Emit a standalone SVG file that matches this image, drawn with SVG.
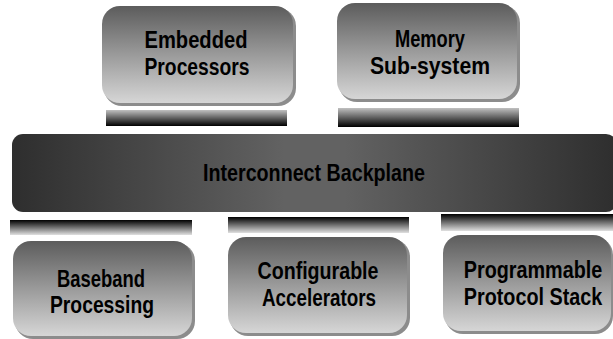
<svg xmlns="http://www.w3.org/2000/svg" width="613" height="339" viewBox="0 0 613 339">
<defs>
<linearGradient id="boxG" x1="0" y1="0" x2="0" y2="1">
<stop offset="0" stop-color="#5c5c5c"/>
<stop offset="0.5" stop-color="#9a9a9a"/>
<stop offset="1" stop-color="#d6d6d6"/>
</linearGradient>
<linearGradient id="bpG" x1="0" y1="0" x2="1" y2="0">
<stop offset="0" stop-color="#2e2e2e"/>
<stop offset="0.45" stop-color="#626262"/>
<stop offset="0.55" stop-color="#626262"/>
<stop offset="1" stop-color="#2e2e2e"/>
</linearGradient>
<linearGradient id="barUp" x1="0" y1="0" x2="0" y2="1">
<stop offset="0" stop-color="#c0c0c0"/>
<stop offset="1" stop-color="#000000"/>
</linearGradient>
<linearGradient id="barDn" x1="0" y1="0" x2="0" y2="1">
<stop offset="0" stop-color="#000000"/>
<stop offset="1" stop-color="#e0e0e0"/>
</linearGradient>
</defs>
<style>
.sh{fill:#8c8c8c}
.box{fill:url(#boxG)}
.t{font-family:"Liberation Sans",Arial,sans-serif;font-weight:bold;font-size:23px;fill:#000;text-anchor:middle}
</style>
<g id="connectors">
<rect x="106" y="110" width="181" height="16" fill="url(#barUp)"/>
<rect x="338" y="108" width="181" height="19" fill="url(#barUp)"/>
<rect x="10" y="220" width="182" height="15" fill="url(#barDn)"/>
<rect x="228" y="217" width="181" height="16" fill="url(#barDn)"/>
<rect x="441" y="214" width="172" height="17" fill="url(#barDn)"/>
</g>
<g id="embedded">
<rect class="sh" x="104" y="8" width="192" height="98" rx="18"/>
<rect class="box" x="102" y="6" width="191" height="97" rx="18"/>
<text class="t" x="196" y="48" textLength="103" lengthAdjust="spacingAndGlyphs">Embedded</text>
<text class="t" x="197" y="75" textLength="105" lengthAdjust="spacingAndGlyphs">Processors</text>
</g>
<g id="memory">
<rect class="sh" x="339" y="5" width="181" height="97" rx="18"/>
<rect class="box" x="337" y="3" width="180" height="96" rx="18"/>
<text class="t" x="430" y="47" textLength="70" lengthAdjust="spacingAndGlyphs">Memory</text>
<text class="t" x="430" y="74" textLength="120" lengthAdjust="spacingAndGlyphs">Sub-system</text>
</g>
<g id="backplane">
<rect x="12" y="134" width="605" height="78" rx="11" fill="url(#bpG)"/>
<text class="t" x="314" y="181" textLength="222" lengthAdjust="spacingAndGlyphs">Interconnect Backplane</text>
</g>
<g id="baseband">
<rect class="sh" x="15" y="243" width="180" height="96" rx="18"/>
<rect class="box" x="13" y="241" width="179" height="95" rx="18"/>
<text class="t" x="101" y="287" textLength="88" lengthAdjust="spacingAndGlyphs">Baseband</text>
<text class="t" x="102" y="313" textLength="104" lengthAdjust="spacingAndGlyphs">Processing</text>
</g>
<g id="configurable">
<rect class="sh" x="230" y="239" width="180" height="97" rx="18"/>
<rect class="box" x="228" y="237" width="179" height="96" rx="18"/>
<text class="t" x="318" y="279" textLength="121" lengthAdjust="spacingAndGlyphs">Configurable</text>
<text class="t" x="319" y="306" textLength="114" lengthAdjust="spacingAndGlyphs">Accelerators</text>
</g>
<g id="programmable">
<rect class="sh" x="445" y="237" width="168" height="97" rx="18"/>
<rect class="box" x="443" y="235" width="168" height="96" rx="18"/>
<text class="t" transform="translate(533,278) scale(0.86,1)">Programmable</text>
<text class="t" transform="translate(533,305) scale(0.86,1)">Protocol Stack</text>
</g>
</svg>
